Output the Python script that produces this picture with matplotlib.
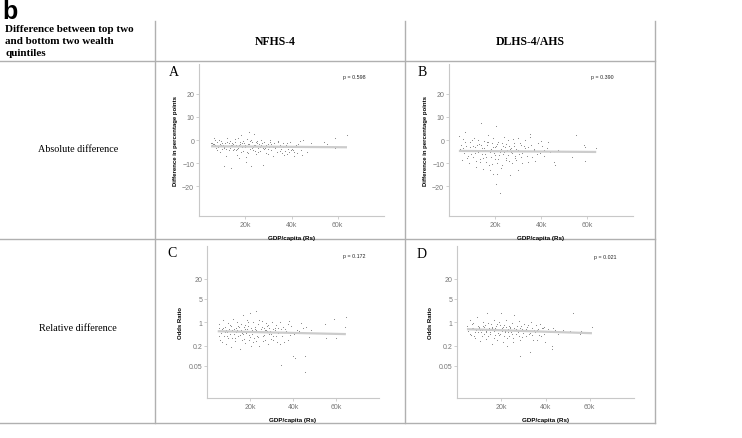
import numpy as np
import matplotlib
matplotlib.use("Agg")
import matplotlib.pyplot as plt
from matplotlib.ticker import FixedLocator, FixedFormatter

# Panel A: NFHS-4, absolute difference (percentage points) vs GDP/capita (thousand Rs)
a_gdp = [5.2, 5.8, 6.3, 6.9, 7.4, 7.8, 8.3, 8.9, 9.4, 9.8,
         10.3, 10.8, 11.2, 11.7, 12.1, 12.6, 13.0, 13.4, 13.9, 14.3,
         14.8, 15.2, 15.6, 16.1, 16.5, 16.9, 17.3, 17.8, 18.2, 18.6,
         19.0, 19.4, 19.8, 20.2, 20.6, 21.0, 21.4, 21.8, 22.2, 22.6,
         23.0, 23.4, 23.8, 24.2, 24.7, 25.1, 25.6, 26.0, 26.5, 27.0,
         27.5, 28.0, 28.6, 29.1, 29.7, 30.2, 30.8, 31.3, 31.9, 32.5,
         33.0, 33.6, 34.2, 34.8, 35.5, 36.2, 36.9, 37.6, 38.4, 39.2,
         40.0, 41.0, 42.0, 43.0, 44.0, 45.0, 46.0, 48.5, 54.0, 55.5,
         58.6, 59.0, 64.0, 6.1, 7.1, 8.0, 9.1, 10.0, 11.0, 12.3,
         13.2, 14.1, 15.0, 15.9, 16.7, 17.6, 18.4, 19.2, 20.0, 20.9,
         21.7, 22.4, 23.2, 24.0, 24.9, 25.8, 26.8, 27.8, 28.8, 29.9,
         30.5, 31.6, 32.8, 34.0, 35.2, 36.5, 38.0, 39.7, 41.5, 43.5,
         5.5, 6.6, 7.6, 8.6, 9.6, 10.6, 11.5, 12.8, 13.7, 14.6,
         15.4, 16.3, 17.1, 18.0, 18.8, 19.6, 20.4, 21.2, 22.0, 22.8,
         23.6, 24.5, 25.4, 26.2, 27.2, 28.3, 29.4, 30.0, 31.1, 32.2,
         35.0, 36.0, 37.0, 38.0, 39.0, 40.5, 41.0, 42.5, 44.5, 46.5]
a_diff = [-1.5, -1.2, 0.8, -2.1, -3.5, -1.0, -2.8, -5.0, -0.5, -1.5,
          -2.0, -11.5, -1.2, -3.8, 1.0, -2.5, -4.2, -0.3, -12.0, -2.0,
          -1.8, -4.0, 0.5, -2.2, -6.5, -3.3, -7.8, -0.9, 2.0, -2.7,
          -4.6, -1.4, -3.0, -9.5, 0.3, -2.4, -5.5, 3.5, -3.7, -11.2,
          -1.0, -4.2, 2.5, -2.0, -6.0, -0.6, -3.4, -1.7, -4.8, -2.3,
          -11.0, -0.8, -3.6, -5.8, -1.9, -2.9, -0.2, -4.4, -7.0, -1.3,
          -3.1, -5.0, -0.7, -2.6, -4.1, -1.5, -6.3, -2.2, -3.8, -0.9,
          -3.8, -5.4, -2.2, -1.6, -4.2, -0.1, -3.0, -1.3, -0.9, -1.8,
          1.0, -3.3, 2.0, -1.6, -0.2, -2.9, -1.6, -3.8, -2.9, -0.7,
          -3.6, -1.1, -2.4, -4.3, 0.8, -1.9, -3.1, -0.4, -2.2, -5.1,
          -1.6, -0.1, -3.0, -4.7, -1.3, -2.6, 0.2, -3.5, -2.0, -4.0,
          -1.0, -2.4, -3.6, -0.5, -2.0, -3.2, -1.1, -4.5, -2.5, -0.6,
          -2.0, -1.8, -4.5, 0.2, -2.3, -3.4, -6.8, -1.5, -2.0, -4.5,
          -0.8, -3.7, -2.0, -5.0, -1.2, -2.8, -7.5, -1.8, -0.6, -3.3,
          -2.1, -0.9, -5.2, -2.9, -1.1, -3.9, -2.5, -6.0, -1.6, -3.0,
          -4.6, -5.5, -4.8, -6.2, -5.0, -4.4, -6.8, -5.8, -6.5, -5.2]

# Panel B: DLHS-4/AHS, absolute difference
b_gdp = [4.3, 5.0, 5.6, 6.2, 7.0, 7.5, 8.1, 8.7, 9.2, 9.8,
         10.4, 10.9, 11.4, 11.9, 12.4, 12.9, 13.3, 13.8, 14.2, 14.7,
         15.1, 15.6, 16.0, 16.5, 16.9, 17.4, 17.8, 18.3, 18.7, 19.1,
         19.6, 20.0, 20.4, 20.4, 20.8, 21.0, 21.5, 21.9, 22.2, 22.6,
         23.1, 23.6, 24.1, 24.6, 25.1, 25.6, 26.1, 26.5, 27.0, 27.6,
         28.1, 28.7, 29.3, 29.9, 30.0, 30.6, 31.2, 31.8, 32.4, 33.0,
         33.7, 34.4, 35.0, 35.0, 36.0, 36.8, 37.5, 38.6, 39.5, 40.5,
         41.5, 42.5, 43.0, 44.0, 45.5, 46.0, 47.5, 53.6, 55.0, 58.5,
         59.0, 59.0, 64.0, 5.3, 6.6, 7.8, 9.0, 10.1, 11.1, 12.1,
         13.0, 13.6, 14.4, 15.3, 16.2, 17.0, 17.7, 18.5, 19.3, 20.1,
         20.9, 21.7, 22.5, 23.3, 24.2, 25.0, 25.9, 26.8, 27.7, 28.6,
         29.6, 30.7, 31.9, 33.1, 34.2, 35.6, 37.0, 38.2, 39.8, 41.2,
         5.9, 6.9, 8.4, 9.5, 10.6, 11.6, 12.6, 13.5, 14.0, 14.9,
         15.8, 16.7, 17.5, 18.2, 19.0, 19.8, 20.6, 21.3, 22.0, 22.9,
         23.8, 24.8, 25.8, 26.6, 27.4, 28.4, 29.0, 30.2, 31.5, 32.7]
b_diff = [1.9, -4.0, -8.5, 0.5, 3.3, -2.5, -6.8, -10.0, -1.0, -4.6,
          -7.2, 0.8, -3.0, -11.6, -5.2, -1.8, -8.4, 7.2, -3.6, -12.5,
          -0.4, -6.0, -9.5, -2.2, 2.0, -4.8, -13.0, -7.4, -1.5, -14.8,
          -5.5, -3.2, 6.2, -19.0, -9.8, -14.8, -0.8, -6.5, -22.8, -4.0,
          -11.0, -2.6, 1.2, -7.8, -4.4, -0.2, -9.0, -15.0, -3.3, -5.8,
          -1.2, -8.0, -3.9, 0.8, -13.0, -6.2, -2.0, -10.2, -4.6, 0.2,
          -7.0, -3.0, 2.6, 1.2, -7.5, -4.2, -9.0, -1.4, -5.6, -2.8,
          -6.8, -3.6, -1.0, -5.0, -9.7, -10.7, -4.4, -7.5, 2.3, -2.0,
          -3.2, -9.0, -3.5, -2.2, -5.6, -7.6, -3.0, 0.0, -5.8, -2.0,
          -4.2, -9.5, -6.0, -3.5, -7.2, -1.0, -5.0, -10.5, -3.0, -8.2,
          -1.8, -4.6, -12.0, -6.0, -3.0, -8.6, -2.4, -5.4, 0.5, -7.0,
          -4.8, -1.5, -5.8, -3.4, -9.5, -2.0, -4.0, -6.2, -0.5, -4.5,
          -3.5, -1.0, -4.4, -6.2, -2.8, -9.0, 0.0, -4.8, -2.0, -7.8,
          -4.2, -0.8, -10.8, -3.8, 0.8, -6.4, -2.6, -8.4, -5.2, -1.2,
          -5.0, -1.6, -6.6, -3.8, -10.0, -2.8, -8.8, -4.2, -7.2, -2.4]

# Panel C: NFHS-4, odds ratio
c_gdp = [5.0, 5.6, 6.2, 6.8, 7.3, 7.9, 8.4, 9.0, 9.5, 10.0,
         10.5, 11.0, 11.5, 12.0, 12.5, 13.0, 13.4, 13.9, 14.3, 14.8,
         15.2, 15.7, 16.1, 16.6, 17.0, 17.5, 17.9, 18.4, 18.8, 19.2,
         19.7, 20.1, 20.5, 20.9, 21.3, 21.8, 22.2, 22.6, 23.0, 23.5,
         23.9, 24.4, 24.9, 25.4, 25.9, 26.4, 26.9, 27.4, 27.9, 28.5,
         29.0, 29.6, 30.2, 30.8, 31.4, 32.0, 32.6, 33.2, 33.8, 34.3,
         34.8, 35.5, 36.0, 36.8, 37.5, 38.0, 38.8, 39.8, 41.0, 42.0,
         43.7, 45.6, 45.7, 46.0, 47.3, 48.4, 54.7, 55.5, 59.0, 60.0,
         64.0, 64.6, 5.4, 6.5, 7.6, 8.7, 9.8, 10.8, 11.8, 12.7,
         13.6, 14.5, 15.4, 16.3, 17.2, 18.1, 19.0, 19.9, 20.7, 21.6,
         22.4, 23.3, 24.2, 25.1, 26.0, 26.9, 27.8, 28.8, 29.8, 30.9,
         31.9, 33.0, 34.0, 35.2, 36.4, 37.8, 39.2, 40.5, 42.8, 44.5,
         5.8, 7.0, 8.2, 9.2, 10.3, 11.3, 12.2, 13.2, 14.1, 15.0,
         15.9, 16.8, 17.7, 18.6, 19.5, 20.3, 21.1, 22.0, 22.8, 23.7,
         24.6, 25.6, 26.6, 27.6, 28.2, 29.3, 30.5, 31.6, 32.9, 34.6]
c_or = [0.55, 0.9, 0.3, 0.62, 1.15, 0.4, 0.75, 0.22, 0.5, 0.35,
        0.85, 0.18, 0.6, 1.3, 0.45, 0.28, 0.7, 1.0, 0.38, 0.55,
        0.16, 0.9, 0.48, 1.6, 0.32, 0.65, 0.24, 1.2, 0.52, 0.8,
        0.42, 1.9, 0.2, 0.6, 1.05, 0.35, 0.75, 2.2, 0.27, 0.5,
        0.88, 0.19, 0.62, 1.1, 0.4, 0.7, 0.3, 0.95, 0.55, 0.23,
        0.68, 0.45, 1.0, 0.3, 0.58, 0.82, 0.26, 0.5, 1.05, 0.053,
        0.38, 0.72, 0.25, 0.55, 0.9, 1.1, 0.42, 0.1, 0.085, 0.6,
        0.95, 0.032, 0.1, 0.75, 0.37, 0.6, 0.9, 0.35, 1.3, 0.35,
        0.75, 1.4, 0.38, 0.48, 0.7, 0.58, 0.95, 0.45, 0.33, 0.62,
        0.52, 0.8, 0.42, 0.3, 0.72, 0.48, 1.0, 0.36, 0.55, 0.25,
        0.65, 0.4, 1.2, 0.5, 0.28, 0.58, 0.8, 0.45, 0.32, 0.62,
        0.4, 0.7, 0.22, 0.5, 0.65, 0.3, 0.78, 0.45, 0.55, 0.68,
        0.7, 0.26, 0.5, 0.4, 0.62, 0.8, 0.55, 0.35, 0.6, 0.75,
        0.58, 0.44, 0.85, 0.62, 0.3, 0.7, 0.46, 0.52, 0.6, 0.36,
        0.5, 0.72, 0.42, 0.6, 0.82, 0.55, 0.4, 0.7, 0.48, 0.62]

# Panel D: DLHS-4/AHS, odds ratio
d_gdp = [4.5, 5.1, 5.7, 6.3, 6.9, 7.4, 8.0, 8.5, 9.1, 9.6,
         10.1, 10.6, 11.1, 11.6, 12.1, 12.6, 13.0, 13.5, 14.0, 14.4,
         14.9, 15.3, 15.8, 16.2, 16.7, 17.1, 17.6, 18.0, 18.5, 18.9,
         19.4, 19.8, 20.2, 20.7, 21.1, 21.5, 22.0, 22.4, 22.9, 23.4,
         23.8, 24.3, 24.8, 25.3, 25.8, 26.3, 26.8, 27.3, 27.8, 28.3,
         28.7, 29.3, 29.9, 30.5, 31.1, 31.7, 32.3, 32.9, 33.5, 34.1,
         34.8, 35.5, 36.2, 37.0, 37.6, 38.5, 39.2, 39.8, 41.0, 42.0,
         42.8, 43.0, 44.5, 46.5, 51.0, 52.4, 55.8, 56.0, 61.0, 5.4,
         6.0, 7.1, 8.2, 9.3, 10.4, 11.4, 12.4, 13.3, 14.2, 15.1,
         16.0, 16.9, 17.8, 18.7, 19.6, 20.5, 21.3, 22.2, 23.1, 24.0,
         24.9, 25.9, 26.9, 27.9, 28.9, 30.0, 31.2, 32.5, 33.8, 35.2,
         36.6, 38.0, 39.5, 41.5, 43.6, 45.5, 48.0, 4.9, 6.6, 7.7,
         8.8, 9.9, 10.9, 11.9, 12.9, 13.8, 14.7, 15.6, 16.5, 17.4,
         18.3, 19.2, 20.0, 20.9, 21.8, 22.7, 23.6, 24.5, 25.5, 26.5,
         27.5, 28.5, 29.6, 30.8, 32.0, 33.2, 34.5, 36.0, 37.2, 38.9]
d_or = [0.8, 0.55, 1.2, 0.42, 0.7, 0.95, 0.35, 0.62, 1.4, 0.5,
        0.75, 0.28, 0.6, 1.05, 0.45, 0.85, 0.55, 1.86, 0.38, 0.7,
        0.5, 0.9, 0.22, 0.65, 1.15, 0.42, 0.78, 0.3, 0.58, 1.0,
        0.46, 1.95, 0.68, 0.25, 0.85, 0.55, 1.2, 0.2, 0.62, 0.4,
        0.75, 0.52, 0.95, 0.34, 1.6, 0.6, 0.44, 0.8, 1.1, 0.3,
        0.1, 0.65, 0.48, 0.9, 0.38, 0.72, 0.55, 0.13, 1.0, 0.42,
        0.6, 0.85, 0.3, 0.55, 0.92, 0.7, 0.45, 0.25, 0.65, 0.5,
        0.16, 0.2, 0.58, 0.5, 0.55, 1.95, 0.44, 0.55, 0.74, 0.62,
        0.45, 0.68, 0.52, 0.8, 0.6, 0.4, 0.72, 0.5, 0.95, 0.58,
        0.7, 0.35, 0.62, 0.48, 0.85, 0.56, 0.4, 0.75, 0.5, 0.66,
        0.45, 0.7, 0.58, 0.38, 0.8, 0.55, 0.62, 0.44, 0.7, 0.5,
        0.62, 0.4, 0.75, 0.55, 0.66, 0.45, 0.6, 0.65, 0.9, 0.38,
        0.58, 0.7, 0.5, 0.8, 0.32, 0.62, 0.45, 0.75, 0.55, 0.68,
        0.9, 0.42, 0.6, 0.72, 0.5, 0.35, 0.8, 0.58, 0.26, 0.64,
        0.5, 0.7, 0.36, 0.6, 0.85, 0.48, 0.3, 0.58, 0.42, 0.66]

p_values = ["p = 0.598", "p = 0.390", "p = 0.172", "p = 0.021"]
panel_letters = ["A", "B", "C", "D"]
surveys = ["NFHS-4", "DLHS-4/AHS"]
rows = ["Absolute difference", "Relative difference"]
header_lines = ["Difference between top two", "and bottom two wealth", "quintiles"]
x_ticks = [20, 40, 60]
x_ticklabels = ["20k", "40k", "60k"]
abs_ticks = [-20, -10, 0, 10, 20]
rel_ticks = [0.05, 0.2, 1, 5, 20]

W, H = 742, 439
fig = plt.figure(figsize=(W / 100, H / 100), dpi=100)

# background axes in pixel coordinates for the table grid and text
bg = fig.add_axes([0, 0, 1, 1])
bg.set_xlim(0, W)
bg.set_ylim(H, 0)
bg.axis("off")

grid_col = "#b0b0b0"
for y in [62, 240, 424]:
    bg.plot([0, 655], [y, y], color=grid_col, lw=1)
for x in [155, 405, 655]:
    bg.plot([x, x], [22, 424], color=grid_col, lw=1)

serif = "Liberation Serif"
sans = "Liberation Sans"
bg.text(2, 0, "b", fontsize=18, fontweight="bold", family=sans, va="top", ha="left")
for k, line in enumerate(header_lines):
    bg.text(5, 29 + 12 * k, line, fontsize=8, fontweight="bold", family=serif,
            va="center", ha="left")
bg.text(275, 42, surveys[0], fontsize=8.5, fontweight="bold", family=serif, ha="center", va="center")
bg.text(530, 42, surveys[1], fontsize=8.5, fontweight="bold", family=serif, ha="center", va="center")
bg.text(78, 150, rows[0], fontsize=7.3, family=serif, ha="center", va="center")
bg.text(78, 329, rows[1], fontsize=7.3, family=serif, ha="center", va="center")


def px_axes(left, top, right, bottom):
    return fig.add_axes([left / W, 1 - bottom / H, (right - left) / W, (bottom - top) / H])


panels = [
    (a_gdp, a_diff, False, (199, 65, 384, 217)),
    (b_gdp, b_diff, False, (449, 65, 633, 217)),
    (c_gdp, c_or, True, (207, 247, 379, 399)),
    (d_gdp, d_or, True, (457, 247, 634, 399)),
]
letter_pos = [(174, 72), (422, 72), (172, 254), (422, 255)]
p_pos = [(354, 77), (602, 77), (354, 257), (605, 258)]
ylabel_x = [178, 428, 183, 433]

for i, (gx, gy, is_log, rect) in enumerate(panels):
    ax = px_axes(*rect)
    gx = np.array(gx)
    gy = np.array(gy)
    ax.scatter(gx, gy, s=0.6, color="#444444", alpha=0.7, linewidths=0)
    # linear fit
    xs = np.linspace(gx.min(), gx.max(), 50)
    if is_log:
        coef = np.polyfit(gx, np.log10(gy), 1)
        ys = 10 ** np.polyval(coef, xs)
        ax.set_yscale("log")
        ax.set_ylim(0.0055, 190)
        ax.yaxis.set_major_locator(FixedLocator(rel_ticks))
        ax.yaxis.set_major_formatter(FixedFormatter(["0.05", "0.2", "1", "5", "20"]))
        ax.yaxis.set_minor_locator(FixedLocator([]))
        ax.set_ylabel("Odds Ratio", fontsize=4.3, fontweight="bold", family=sans)
    else:
        coef = np.polyfit(gx, gy, 1)
        ys = np.polyval(coef, xs)
        ax.set_ylim(-33, 33)
        ax.set_yticks(abs_ticks)
        ax.set_yticklabels(["\u221220", "\u221210", "0", "10", "20"])
        ax.set_ylabel("Difference in percentage points", fontsize=4.3, fontweight="bold", family=sans)
    ax.plot(xs, ys, color="#cccccc", lw=1.6, zorder=1, solid_capstyle="butt")
    ax.set_xlim(0, 80)
    ax.set_xticks(x_ticks)
    ax.set_xticklabels(x_ticklabels)
    ax.set_xlabel("GDP/capita (Rs)", fontsize=4.5, fontweight="bold", family=sans, labelpad=5)
    ax.yaxis.set_label_coords((ylabel_x[i] - rect[0]) / (rect[2] - rect[0]), 0.5)
    for side in ["top", "right"]:
        ax.spines[side].set_visible(False)
    for side in ["left", "bottom"]:
        ax.spines[side].set_color("#c8c8c8")
        ax.spines[side].set_linewidth(0.8)
    ax.tick_params(labelsize=5, colors="#c8c8c8", labelcolor="#777777", length=2, width=0.6, pad=1.5)
    for lab in ax.get_xticklabels() + ax.get_yticklabels():
        lab.set_family(sans)
    ax.patch.set_alpha(0)

    bg.text(letter_pos[i][0], letter_pos[i][1], panel_letters[i], fontsize=10, family=serif,
            ha="center", va="center")
    bg.text(p_pos[i][0], p_pos[i][1], p_values[i], fontsize=3.8, family=sans,
            ha="center", va="center", color="#222222")

fig.savefig("out.png", dpi=100)
